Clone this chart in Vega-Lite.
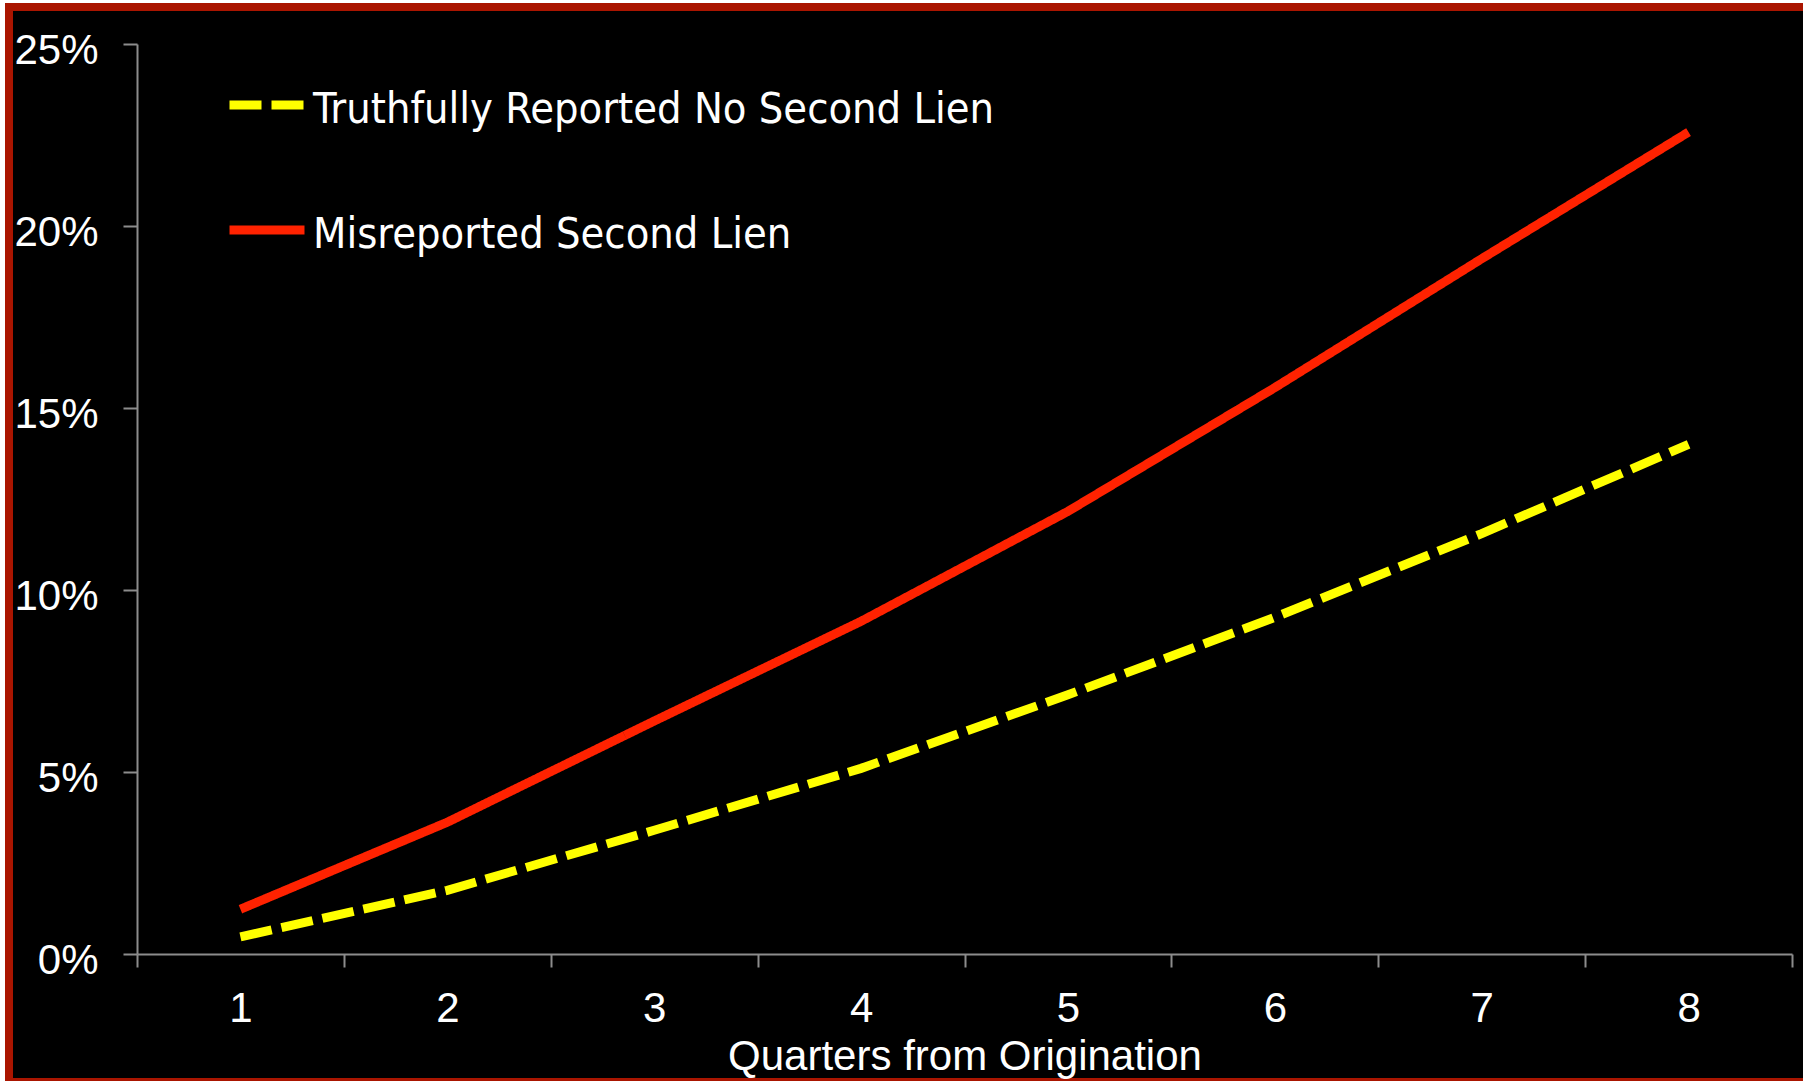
{
  "$schema": "https://vega.github.io/schema/vega-lite/v6.json",
  "width": 1800,
  "height": 1075,
  "autosize": {"type": "none"},
  "padding": {"left": 9, "top": 7, "right": -6, "bottom": -1},
  "background": "#ffffff",
  "config": {
    "font": "Liberation Sans",
    "view": {"fill": "#000000", "stroke": "#AA1500", "strokeWidth": 8}
  },
  "data": {
    "values": [
      {"quarter": 1, "series": "Truthfully Reported No Second Lien", "rate": 0.0047},
      {"quarter": 2, "series": "Truthfully Reported No Second Lien", "rate": 0.0175},
      {"quarter": 3, "series": "Truthfully Reported No Second Lien", "rate": 0.034},
      {"quarter": 4, "series": "Truthfully Reported No Second Lien", "rate": 0.051},
      {"quarter": 5, "series": "Truthfully Reported No Second Lien", "rate": 0.0712},
      {"quarter": 6, "series": "Truthfully Reported No Second Lien", "rate": 0.0925},
      {"quarter": 7, "series": "Truthfully Reported No Second Lien", "rate": 0.1155},
      {"quarter": 8, "series": "Truthfully Reported No Second Lien", "rate": 0.14},
      {"quarter": 1, "series": "Misreported Second Lien", "rate": 0.0123},
      {"quarter": 2, "series": "Misreported Second Lien", "rate": 0.0362},
      {"quarter": 3, "series": "Misreported Second Lien", "rate": 0.064},
      {"quarter": 4, "series": "Misreported Second Lien", "rate": 0.0914},
      {"quarter": 5, "series": "Misreported Second Lien", "rate": 0.1216},
      {"quarter": 6, "series": "Misreported Second Lien", "rate": 0.1556},
      {"quarter": 7, "series": "Misreported Second Lien", "rate": 0.191},
      {"quarter": 8, "series": "Misreported Second Lien", "rate": 0.2258}
    ]
  },
  "mark": {"type": "line", "strokeWidth": 9, "strokeCap": "butt", "strokeJoin": "miter"},
  "encoding": {
    "x": {
      "field": "quarter",
      "type": "ordinal",
      "scale": {"type": "band", "range": [128, 1783], "paddingInner": 0, "paddingOuter": 0},
      "axis": {
        "offset": -128,
        "tickBand": "extent",
        "labelAngle": 0,
        "grid": false,
        "domainColor": "#8C8C8C",
        "domainWidth": 2,
        "tickColor": "#8C8C8C",
        "tickWidth": 2,
        "tickSize": 13,
        "labelColor": "#FFFFFF",
        "labelFontSize": 42,
        "labelPadding": 21,
        "title": "Quarters from Origination",
        "titleColor": "#FFFFFF",
        "titleFontSize": 42,
        "titleFontWeight": "normal",
        "titlePadding": 7
      }
    },
    "y": {
      "field": "rate",
      "type": "quantitative",
      "scale": {"domain": [0, 0.25], "range": [947, 37], "nice": false, "zero": true},
      "axis": {
        "offset": -128,
        "values": [0, 0.05, 0.1, 0.15, 0.2, 0.25],
        "format": ".0%",
        "grid": false,
        "domainColor": "#8C8C8C",
        "domainWidth": 2,
        "tickColor": "#8C8C8C",
        "tickWidth": 2,
        "tickSize": 14,
        "labelColor": "#FFFFFF",
        "labelFontSize": 42,
        "labelPadding": 25,
        "labelOffset": 6,
        "title": null
      }
    },
    "color": {
      "field": "series",
      "type": "nominal",
      "scale": {
        "domain": ["Truthfully Reported No Second Lien", "Misreported Second Lien"],
        "range": ["#FFFF00", "#FF2200"]
      },
      "legend": {
        "orient": "none",
        "legendX": 216,
        "legendY": 56,
        "direction": "vertical",
        "title": null,
        "padding": 0,
        "symbolType": "stroke",
        "symbolSize": 5625,
        "symbolStrokeWidth": 9,
        "labelFont": "Liberation Sans Narrow, DejaVu Sans Condensed, sans-serif",
        "labelFontSize": 43,
        "labelColor": "#FFFFFF",
        "labelOffset": 4,
        "labelLimit": 0,
        "rowPadding": 56,
        "encode": {"labels": {"update": {"dy": {"value": 5}}}}
      }
    },
    "strokeDash": {
      "field": "series",
      "type": "nominal",
      "scale": {
        "domain": ["Truthfully Reported No Second Lien", "Misreported Second Lien"],
        "range": [[32, 10], [1, 0]]
      },
      "legend": {
        "orient": "none",
        "legendX": 216,
        "legendY": 56,
        "direction": "vertical",
        "title": null,
        "padding": 0,
        "symbolType": "stroke",
        "symbolSize": 5625,
        "symbolStrokeWidth": 9,
        "labelFont": "Liberation Sans Narrow, DejaVu Sans Condensed, sans-serif",
        "labelFontSize": 43,
        "labelColor": "#FFFFFF",
        "labelOffset": 4,
        "labelLimit": 0,
        "rowPadding": 56,
        "encode": {"labels": {"update": {"dy": {"value": 5}}}}
      }
    }
  }
}
